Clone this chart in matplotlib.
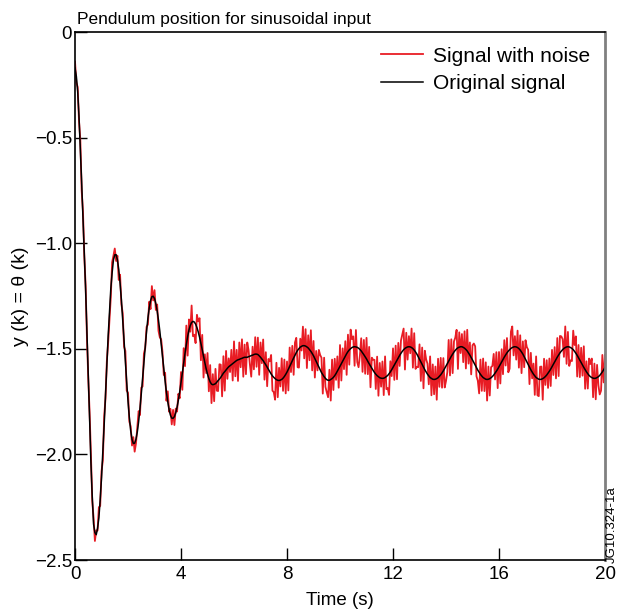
import matplotlib
matplotlib.use("Agg")
import matplotlib.pyplot as plt
import numpy as np

plt.rcParams['font.family'] = ['Liberation Sans', 'DejaVu Sans']

# original (noise free) pendulum position at t = 0.0, 0.1, ... 20.0 s
original = [
    -0.17, -0.28, -0.55, -0.88, -1.22, -1.62, -2.04, -2.33, -2.38, -2.30,
    -2.11, -1.86, -1.58, -1.33, -1.14, -1.055, -1.079, -1.189, -1.361, -1.56,
    -1.748, -1.887, -1.948, -1.928, -1.845, -1.714, -1.562, -1.416, -1.307, -1.253,
    -1.262, -1.320, -1.416, -1.534, -1.653, -1.751, -1.814, -1.829, -1.803, -1.743,
    -1.660, -1.567, -1.480, -1.411, -1.375, -1.373, -1.399, -1.445, -1.504, -1.566,
    -1.620, -1.657, -1.670, -1.665, -1.650, -1.635, -1.615, -1.600, -1.585, -1.575,
    -1.565, -1.555, -1.550, -1.545, -1.540, -1.540, -1.535, -1.530, -1.525, -1.527,
    -1.540, -1.556, -1.576, -1.598, -1.619, -1.635, -1.646, -1.650, -1.645, -1.631,
    -1.610, -1.584, -1.556, -1.530, -1.507, -1.492, -1.485, -1.487, -1.496, -1.512,
    -1.533, -1.560, -1.585, -1.612, -1.632, -1.646, -1.649, -1.641, -1.627, -1.606,
    -1.582, -1.558, -1.534, -1.513, -1.499, -1.491, -1.491, -1.497, -1.510, -1.528,
    -1.548, -1.571, -1.592, -1.612, -1.627, -1.637, -1.640, -1.636, -1.626, -1.609,
    -1.588, -1.565, -1.542, -1.521, -1.504, -1.494, -1.490, -1.494, -1.506, -1.525,
    -1.549, -1.574, -1.599, -1.620, -1.636, -1.644, -1.644, -1.637, -1.623, -1.604,
    -1.582, -1.558, -1.535, -1.515, -1.500, -1.492, -1.490, -1.497, -1.510, -1.530,
    -1.553, -1.578, -1.601, -1.621, -1.636, -1.644, -1.644, -1.637, -1.624, -1.606,
    -1.585, -1.562, -1.539, -1.519, -1.504, -1.494, -1.490, -1.494, -1.506, -1.525,
    -1.549, -1.574, -1.599, -1.620, -1.636, -1.644, -1.644, -1.637, -1.624, -1.606,
    -1.585, -1.562, -1.539, -1.519, -1.504, -1.494, -1.490, -1.494, -1.504, -1.521,
    -1.542, -1.565, -1.588, -1.609, -1.626, -1.636, -1.640, -1.636, -1.626, -1.609,
    -1.588,
]

# same signal read at the half steps t = 0.05, 0.15, ... 19.95 s
original_mid = [
    -0.21, -0.40, -0.71, -1.05, -1.42, -1.83, -2.20, -2.37, -2.351, -2.214,
    -1.989, -1.715, -1.441, -1.216, -1.079, -1.054, -1.124, -1.269, -1.460, -1.658,
    -1.825, -1.928, -1.947, -1.894, -1.784, -1.638, -1.486, -1.355, -1.272, -1.251,
    -1.286, -1.365, -1.474, -1.594, -1.706, -1.788, -1.828, -1.821, -1.777, -1.704,
    -1.614, -1.522, -1.442, -1.389, -1.370, -1.383, -1.420, -1.474, -1.536, -1.595,
    -1.641, -1.667, -1.668, -1.658, -1.643, -1.625, -1.608, -1.592, -1.580, -1.570,
    -1.560, -1.552, -1.547, -1.542, -1.540, -1.537, -1.532, -1.527, -1.525, -1.533,
    -1.548, -1.566, -1.587, -1.609, -1.628, -1.641, -1.649, -1.648, -1.639, -1.621,
    -1.597, -1.570, -1.543, -1.518, -1.499, -1.488, -1.485, -1.491, -1.504, -1.522,
    -1.546, -1.572, -1.599, -1.622, -1.640, -1.649, -1.645, -1.635, -1.617, -1.594,
    -1.570, -1.546, -1.523, -1.505, -1.494, -1.490, -1.493, -1.503, -1.519, -1.538,
    -1.560, -1.582, -1.602, -1.620, -1.632, -1.639, -1.639, -1.631, -1.618, -1.599,
    -1.577, -1.554, -1.531, -1.512, -1.498, -1.491, -1.491, -1.499, -1.515, -1.537,
    -1.562, -1.587, -1.610, -1.628, -1.640, -1.645, -1.641, -1.630, -1.614, -1.593,
    -1.570, -1.546, -1.525, -1.507, -1.495, -1.490, -1.493, -1.503, -1.520, -1.541,
    -1.565, -1.590, -1.611, -1.629, -1.640, -1.645, -1.641, -1.631, -1.615, -1.596,
    -1.574, -1.550, -1.529, -1.511, -1.498, -1.491, -1.491, -1.499, -1.515, -1.537,
    -1.562, -1.587, -1.610, -1.628, -1.640, -1.645, -1.641, -1.631, -1.615, -1.596,
    -1.574, -1.550, -1.529, -1.511, -1.498, -1.491, -1.491, -1.498, -1.512, -1.531,
    -1.554, -1.577, -1.599, -1.618, -1.632, -1.639, -1.639, -1.632, -1.618, -1.599,
]

# measurement noise (hundredths) at the whole steps
noise_offset = [
    3, 2, 4, 3, 2, -2, 4, 3, 2, 5, 3, 4, 2, -3, 5, 3, 2, 4, 3, 5,
    4, 2, 3, -2, 5, 3, 4, 2, 3, 5, 4, 3, -3, 2, 4, 5, 3, 4, 2, 3, 5,
    7, 9, 5, 8, -6, 6, 9, 7, 4, 10, 8, 5, 7, -5, 6, 8, 9, 4, 7, 10,
    5, 8, 9, 6, 7, -4, 4, 8, 8, 7, 10, 6, 5, 9, -7, 8, 6, 10, 8, 5,
    9, 7, 6, -8, 4, 9, 8, 6, 10, 7, 5, 8, 7, 9, -6, 5, 9, 8, 7, 10,
    6, 7, 8, 9, 5, 8, -9, 6, 7, 10, 8, 5, 6, 9, 7, 8, 10, -6, 5, 9,
    8, 7, 6, 10, 7, 5, 9, 8, -6, 7, 8, 9, 5, 10, 7, 6, 9, 8, 6, -7,
    10, 8, 5, 9, 7, 6, 8, 10, 6, 7, 9, -5, 7, 9, 8, 6, 5, 10, 9, 7,
    6, 8, 7, -9, 10, 5, 8, 7, 6, 9, 7, 8, 5, 10, -8, 6, 9, 7, 6, 8,
    7, 9, 8, 5, 10, 7, -6, 9, 8, 6, 7, 10, 5, 8, 9, 7, 6, -9, 8, 6,
]

# measurement noise (hundredths) at the half steps
noise_offset_mid = [
    -3, -2, -4, -1, -3, 3, -2, -4, -1, -3, -4, -2, -3, -4, 2, -3, -5, -2, -3, -4,
    -2, -3, -4, 2, -3, -4, -1, -3, -4, -2, -3, -5, 2, -3, -4, -1, -3, -4, -2, -3,
    -8, -6, -9, -3, -7, -9, 5, -8, -10, -2, -6, -9, -8, -4, 7, -10, -9, -5, -3, -8,
    -7, -10, -4, -9, -8, 3, -10, -7, -6, -9, -2, -8, -9, 5, -7, -10, -8, -3, -6, -9,
    -10, -4, -8, 7, -9, -2, -6, -10, -5, -8, -9, -3, 7, -9, -4, -8, -10, -6, -3, -9,
    -8, -5, -10, -7, 4, -9, -7, -3, -9, -8, -6, -10, 5, -7, -9, -4, -8, -6, -10, -3,
    -7, -9, -5, 8, -10, -6, -3, -9, -8, -5, -9, -10, 6, -4, -8, -7, -10, -5, -7, -9,
    -4, -8, -9, 6, -10, -3, -7, -9, -5, -8, 9, -4, -10, -7, -6, -10, -8, 5, -3, -9,
    -9, -7, -5, -10, 8, -4, -6, -9, -10, -5, 7, -8, -3, -9, -8, 6, -10, -4, -7, -8,
    -5, -9, -10, 7, -4, -8, -9, -6, 3, -10, -8, -5, -9, -7, 6, -9, -10, -4, -8, -6,
]

x_ticks = [0, 4, 8, 12, 16, 20]
y_ticks = [0, -0.5, -1.0, -1.5, -2.0, -2.5]
y_tick_labels = ["0", "\u22120.5", "\u22121.0", "\u22121.5", "\u22122.0", "\u22122.5"]

# merge whole and half steps into one 0.05 s series
time_s = np.arange(401) / 20
signal = np.empty(401)
signal[0::2] = original
signal[1::2] = original_mid
noise = np.empty(401)
noise[0::2] = noise_offset
noise[1::2] = noise_offset_mid
noisy = signal + noise / 100

fig = plt.figure(figsize=(6.19, 6.15), dpi=100)
ax = fig.add_axes([0.1212, 0.0894, 0.8562, 0.8585])

ax.plot(time_s, noisy, color='#e81c24', lw=1.3, label="Signal with noise")
ax.plot(time_s, signal, color='black', lw=1.1, label="Original signal")

ax.set_xlim(0, 20)
ax.set_ylim(-2.5, 0)
ax.set_xticks(x_ticks)
ax.set_yticks(y_ticks)
ax.set_yticklabels(y_tick_labels)
ax.tick_params(direction='in', length=8.6, width=1, labelsize=13.5)
ax.tick_params(axis='x', pad=4)
ax.tick_params(axis='y', pad=2)

for s in ['left', 'bottom', 'top']:
    ax.spines[s].set_linewidth(1.2)
ax.spines['right'].set_color('#808080')
ax.spines['right'].set_linewidth(2)

ax.set_xlabel("Time (s)", fontsize=13.5, labelpad=7)
ax.set_ylabel("y (k) = \u03b8 (k)", fontsize=14, labelpad=4)
ax.text(0.004, 1.015, "Pendulum position for sinusoidal input", transform=ax.transAxes,
        fontsize=12.5, ha='left', va='baseline')

ax.legend(loc='upper right', frameon=False, fontsize=15, handlelength=2.0,
          handletextpad=0.5, labelspacing=0.4, borderaxespad=0.3)

fig.text(0.989, 0.0846, "JG10.324-1a", rotation=90, fontsize=9.5, ha='center', va='bottom')

fig.savefig("out.png", dpi=100)
